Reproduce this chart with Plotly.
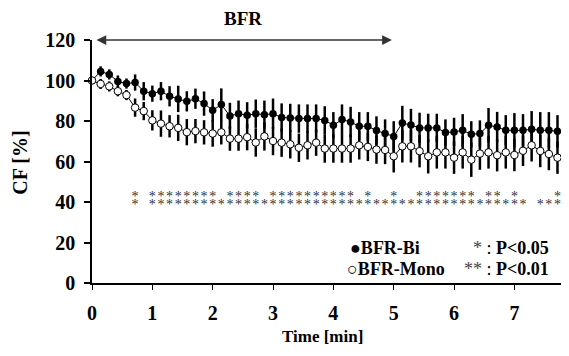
import plotly.graph_objects as go

# ---- data ----
time_min = [i / 7 for i in range(56)]  # samples every 1/7 min

bfr_bi = [100, 104.5, 103, 99.5, 98.5, 99, 94.7, 93.5, 94.7, 92.2,
          90.9, 89.7, 91.0, 88.6, 85.3, 88.1, 82.5, 83.6, 82.8, 83.6,
          83.1, 83.6, 81.7, 81.5, 81.2, 81.2, 81.2, 80.3, 77.9, 80.7,
          79.5, 77.4, 77.4, 75.3, 73.8, 72.4, 79.0, 78.0, 76.6, 76.6,
          76.6, 74.3, 74.6, 75.4, 73.4, 73.8, 77.9, 77.0, 75.4, 75.4,
          75.4, 75.9, 75.4, 75.4, 74.9, 75.9]
bfr_bi_sd = [0, 2.5, 2.5, 3, 2.5, 4, 4.5, 4, 4.5, 5,
             6.5, 5, 5, 6, 5.5, 8, 6.5, 6.5, 6.5, 7,
             7, 7.5, 7, 7, 7, 7, 7, 7, 6.5, 7.5,
             7.5, 7, 7, 7, 7, 7.5, 8.5, 8, 7.5, 7,
             7, 6.5, 7, 8, 6.5, 6.5, 8.5, 7.5, 7.5, 8.5,
             8, 9, 9, 9, 8, 8.5]

bfr_mono = [100, 98.3, 97.1, 94.7, 92.8, 86.6, 84.9, 80.3, 78.7, 77.4,
            76.6, 74.5, 75.0, 74.4, 73.8, 74.4, 71.3, 71.3, 72.0, 69.4,
            72.4, 70.1, 69.3, 68.5, 66.8, 68.0, 69.3, 66.4, 66.4, 66.4,
            66.4, 68.0, 67.2, 65.9, 65.7, 62.6, 67.5, 67.5, 65.1, 62.6,
            64.5, 64.5, 61.9, 64.5, 60.9, 63.9, 64.5, 63.1, 64.5, 63.2,
            65.3, 68.0, 65.2, 63.7, 61.9, 65.0]
bfr_mono_sd = [0, 2.5, 2.5, 2.5, 2.5, 4.5, 4.5, 5, 6.5, 5.5,
               6.5, 6.5, 6, 6, 6.5, 6, 6, 6, 6.5, 7,
               7, 7, 7, 7, 7, 7, 6.5, 7, 7, 7,
               7, 7, 7, 7, 7, 8, 8, 8, 8, 8.5,
               8, 8, 8, 8, 8.5, 8, 8, 8, 8, 8,
               7.5, 8, 8, 8, 8, 8]

significance = ["", "", "", "", "", "**", "", "**", "**", "**",
                "**", "**", "**", "**", "**", "*", "**", "**", "**", "**",
                "*", "**", "**", "**", "**", "**", "**", "**", "**", "**",
                "**", "*", "**", "*", "*", "**", "*", "*", "**", "**",
                "**", "**", "**", "**", "**", "*", "**", "**", "*", "**",
                "*", "", "*", "*", "**", "*"]

x_ticks = [0, 1, 2, 3, 4, 5, 6, 7]
y_ticks = [0, 20, 40, 60, 80, 100, 120]
bfr_period = [0.05, 4.97]

FONT = "Liberation Serif"

fig = go.Figure()

fig.add_trace(go.Scatter(
    x=time_min, y=bfr_bi, mode="lines+markers", cliponaxis=False,
    line=dict(color="black", width=1),
    marker=dict(symbol="circle", size=7.5, color="black"),
    error_y=dict(type="data", array=bfr_bi_sd, color="black", thickness=2.5, width=0),
    showlegend=False))

fig.add_trace(go.Scatter(
    x=time_min, y=bfr_mono, mode="lines+markers", cliponaxis=False,
    line=dict(color="black", width=1),
    marker=dict(symbol="circle", size=7.5, color="white", line=dict(color="black", width=1)),
    error_y=dict(type="data", array=bfr_mono_sd, color="black", thickness=2.5, width=0),
    showlegend=False))

# significance asterisks
sx, sy = [], []
for t, s in zip(time_min, significance):
    if s == "**":
        sx += [t, t]
        sy += [42.2, 38.2]
    elif s == "*":
        sx.append(t)
        sy.append(38.4)
fig.add_trace(go.Scatter(
    x=sx, y=sy, mode="text", text=["*"] * len(sx), textposition="middle center",
    textfont=dict(family=FONT, size=14, color="#333"), cliponaxis=False,
    showlegend=False, hoverinfo="skip"))

# BFR period arrow
fig.add_annotation(x=bfr_period[1], y=120, ax=bfr_period[0], ay=120,
                   xref="x", yref="y", axref="x", ayref="y", text="",
                   showarrow=True, arrowhead=2, arrowside="end+start",
                   arrowsize=1.3, arrowwidth=1.5, arrowcolor="#333")
fig.add_annotation(x=2.5 / 7.905, y=1.089, xref="paper", yref="paper",
                   text="BFR", showarrow=False, xanchor="center", yanchor="middle",
                   font=dict(family=FONT, size=19, color="black", weight="bold"))

# legend texts
leg_font = dict(family=FONT, size=18, color="black", weight="bold")
fig.add_annotation(x=4.245, y=17.1, xref="x", yref="y", xanchor="left", yanchor="middle",
                   text="●BFR-Bi", showarrow=False, font=leg_font)
fig.add_annotation(x=4.19, y=6.8, xref="x", yref="y", xanchor="left", yanchor="middle",
                   text="○BFR-Mono", showarrow=False, font=leg_font)
fig.add_annotation(x=7.607, y=17.1, xref="x", yref="y", xanchor="right", yanchor="middle",
                   text="<span style='color:#444;font-weight:normal'>*</span> <span style='font-weight:normal'>:</span> P&lt;0.05",
                   showarrow=False, font=leg_font)
fig.add_annotation(x=7.607, y=6.8, xref="x", yref="y", xanchor="right", yanchor="middle",
                   text="<span style='color:#444;font-weight:normal'>**</span> <span style='font-weight:normal'>:</span> P&lt;0.01",
                   showarrow=False, font=leg_font)

# axis titles
fig.add_annotation(x=-0.15, y=0.497, xref="paper", yref="paper", text="CF [%]",
                   textangle=-90, showarrow=False, xanchor="center", yanchor="middle",
                   font=dict(family=FONT, size=20, color="black", weight="bold"))
fig.add_annotation(x=0.484, y=-0.22, xref="paper", yref="paper", text="Time [min]",
                   showarrow=False, xanchor="center", yanchor="middle",
                   font=dict(family=FONT, size=17, color="black", weight="bold"))

tick_font = dict(family=FONT, size=20, color="black", weight="bold")
fig.update_xaxes(range=[0, 7.905], tickvals=x_ticks, ticks="outside", ticklen=5,
                 tickwidth=1, tickcolor="black", showline=True, linewidth=2,
                 linecolor="black", showgrid=False, zeroline=False,
                 tickfont=tick_font, ticklabelstandoff=6)
fig.update_yaxes(range=[0, 120], tickvals=y_ticks, ticks="outside", ticklen=6,
                 tickwidth=1.5, tickcolor="black", showline=True, linewidth=1.5,
                 linecolor="black", showgrid=False, zeroline=False,
                 tickfont=tick_font, ticklabelstandoff=5)

# page body has an 8px margin: the figure is sized so that it fills the window
fig.update_layout(width=561, height=348, plot_bgcolor="white", paper_bgcolor="white",
                  margin=dict(l=84.3, r=0, t=31.7, b=73.3, autoexpand=False),
                  font=dict(family=FONT))

fig.write_html("out.html")
